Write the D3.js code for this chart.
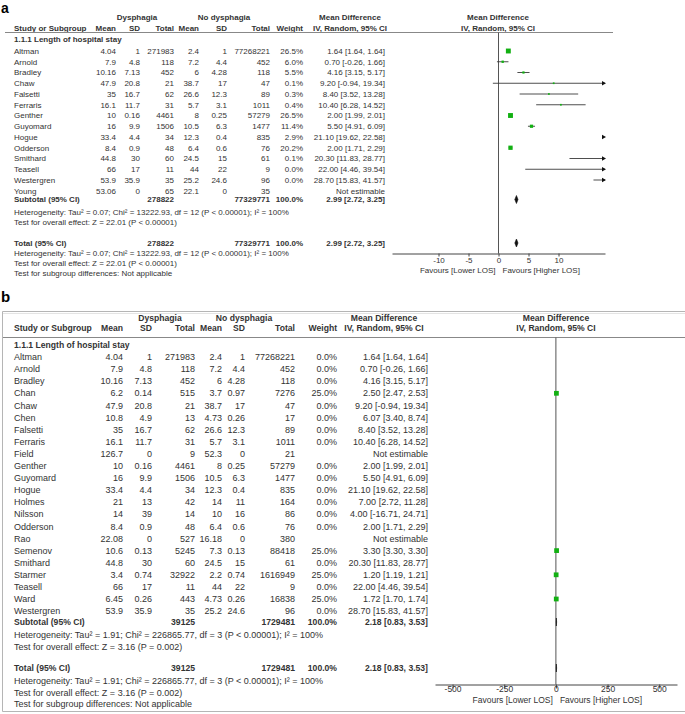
<!DOCTYPE html>
<html><head><meta charset="utf-8">
<script src="https://cdn.jsdelivr.net/npm/d3@7"></script>
<style>
body{margin:0;background:#fff;}
svg{display:block;font-family:"Liberation Sans",Arial,sans-serif;}
</style></head>
<body>
<script>
// ---------- Panel a data ----------
const studiesA = ["Altman","Arnold","Bradley","Chaw","Falsetti","Ferraris","Genther","Guyomard","Hogue","Odderson","Smithard","Teasell","Westergren","Young"];
const dysMeanA = [4.04,7.9,10.16,47.9,35,16.1,10,16,33.4,8.4,44.8,66,53.9,53.06];
const dysSDA   = [1,4.8,7.13,20.8,16.7,11.7,0.16,9.9,4.4,0.9,30,17,35.9,0];
const dysTotA  = [271983,118,452,21,62,31,4461,1506,34,48,60,11,35,65];
const noMeanA  = [2.4,7.2,6,38.7,26.6,5.7,8,10.5,12.3,6.4,24.5,44,25.2,22.1];
const noSDA    = [1,4.4,4.28,17,12.3,3.1,0.25,6.3,0.4,0.6,15,22,24.6,0];
const noTotA   = [77268221,452,118,47,89,1011,57279,1477,835,76,61,9,96,35];
const weightA  = [26.5,6.0,5.5,0.1,0.3,0.4,26.5,11.4,2.9,20.2,0.1,0.0,0.0,null];
const mdA      = [1.64,0.70,4.16,9.20,8.40,10.40,2.00,5.50,21.10,2.00,20.30,22.00,28.70,null];
const loA      = [1.64,-0.26,3.15,-0.94,3.52,6.28,1.99,4.91,19.62,1.71,11.83,4.46,15.83,null];
const hiA      = [1.64,1.66,5.17,19.34,13.28,14.52,2.01,6.09,22.58,2.29,28.77,39.54,41.57,null];
const totalsA  = {dys:278822, no:77329771, md:2.99, lo:2.72, hi:3.25};
const hetA     = "Heterogeneity: Tau\u00b2 = 0.07; Chi\u00b2 = 13222.93, df = 12 (P < 0.00001); I\u00b2 = 100%";
const effA     = "Test for overall effect: Z = 22.01 (P < 0.00001)";
const ticksA   = [-10,-5,0,5,10];

// ---------- Panel b data ----------
const studiesB = ["Altman","Arnold","Bradley","Chan","Chaw","Chen","Falsetti","Ferraris","Field","Genther","Guyomard","Hogue","Holmes","Nilsson","Odderson","Rao","Semenov","Smithard","Starmer","Teasell","Ward","Westergren"];
const dysMeanB = [4.04,7.9,10.16,6.2,47.9,10.8,35,16.1,126.7,10,16,33.4,21,14,8.4,22.08,10.6,44.8,3.4,66,6.45,53.9];
const dysSDB   = [1,4.8,7.13,0.14,20.8,4.9,16.7,11.7,0,0.16,9.9,4.4,13,39,0.9,0,0.13,30,0.74,17,0.26,35.9];
const dysTotB  = [271983,118,452,515,21,13,62,31,9,4461,1506,34,42,14,48,527,5245,60,32922,11,443,35];
const noMeanB  = [2.4,7.2,6,3.7,38.7,4.73,26.6,5.7,52.3,8,10.5,12.3,14,10,6.4,16.18,7.3,24.5,2.2,44,4.73,25.2];
const noSDB    = [1,4.4,4.28,0.97,17,0.26,12.3,3.1,0,0.25,6.3,0.4,11,16,0.6,0,0.13,15,0.74,22,0.26,24.6];
const noTotB   = [77268221,452,118,7276,47,17,89,1011,21,57279,1477,835,164,86,76,380,88418,61,1616949,9,16838,96];
const weightB  = [0.0,0.0,0.0,25.0,0.0,0.0,0.0,0.0,null,0.0,0.0,0.0,0.0,0.0,0.0,null,25.0,0.0,25.0,0.0,25.0,0.0];
const mdB      = [1.64,0.70,4.16,2.50,9.20,6.07,8.40,10.40,null,2.00,5.50,21.10,7.00,4.00,2.00,null,3.30,20.30,1.20,22.00,1.72,28.70];
const loB      = [1.64,-0.26,3.15,2.47,-0.94,3.40,3.52,6.28,null,1.99,4.91,19.62,2.72,-16.71,1.71,null,3.30,11.83,1.19,4.46,1.70,15.83];
const hiB      = [1.64,1.66,5.17,2.53,19.34,8.74,13.28,14.52,null,2.01,6.09,22.58,11.28,24.71,2.29,null,3.30,28.77,1.21,39.54,1.74,41.57];
const totalsB  = {dys:39125, no:1729481, md:2.18, lo:0.83, hi:3.53};
const hetB     = "Heterogeneity: Tau\u00b2 = 1.91; Chi\u00b2 = 226865.77, df = 3 (P < 0.00001); I\u00b2 = 100%";
const effB     = "Test for overall effect: Z = 3.16 (P = 0.002)";
const ticksB   = [-500,-250,0,250,500];

const groupTitle = "1.1.1 Length of hospital stay";
const subgroupText = "Test for subgroup differences: Not applicable";
const favLeft = "Favours [Lower LOS]", favRight = "Favours [Higher LOS]";

// ---------- drawing ----------
const svg = d3.select("body").append("svg").attr("width",685).attr("height",714);
const INK = "#333", GREEN = "#12b012";

function txt(g, x, cy, s, size, anchor, bold){
  return g.append("text").attr("x",x).attr("y",cy + size*0.35)
    .attr("font-size",size).attr("text-anchor",anchor||"start")
    .attr("font-weight",bold?"bold":"normal").attr("fill",INK).text(s);
}
const fmtCI = (m,l,h) => m==null ? "Not estimable" : `${m.toFixed(2)} [${l.toFixed(2)}, ${h.toFixed(2)}]`;

function panel(P, D){
  const g = svg.append("g");
  const fs = P.fs, hs = P.hs, as = P.as;
  // headers
  txt(g, P.cDys, P.h1, "Dysphagia", hs, "middle", true);
  txt(g, P.cNo, P.h1, "No dysphagia", hs, "middle", true);
  txt(g, P.cMD, P.h1, "Mean Difference", hs, "middle", true);
  txt(g, P.cPlot, P.h1, "Mean Difference", hs, "middle", true);
  txt(g, P.xName, P.h2, "Study or Subgroup", hs, "start", true);
  const hdr = ["Mean","SD","Total","Mean","SD","Total","Weight"];
  hdr.forEach((h,i)=>txt(g, P.cols[i], P.h2, h, hs, "end", true));
  txt(g, P.cMD, P.h2, "IV, Random, 95% CI", hs, "middle", true);
  txt(g, P.cPlot, P.h2, "IV, Random, 95% CI", hs, "middle", true);
  g.append("line").attr("x1",P.lineX[0]).attr("x2",P.lineX[1]).attr("y1",P.hLine).attr("y2",P.hLine)
    .attr("stroke","#888").attr("stroke-width",1);

  txt(g, P.xName, P.gTitle, groupTitle, hs, "start", true);

  const n = D.names.length;
  const y = d3.scaleLinear().domain([0,n-1]).range([P.row0, P.row0 + (n-1)*P.dy]);
  const x = d3.scaleLinear().domain(P.domain).range(P.range);

  D.names.forEach((nm,i)=>{
    const cy = y(i);
    txt(g, P.xName, cy, nm, fs, "start", false);
    const vals = [D.dm[i], D.ds[i], D.dt[i], D.nm[i], D.ns[i], D.nt[i], D.w[i]==null?"":D.w[i].toFixed(1)+"%"];
    vals.forEach((v,k)=>txt(g, P.cols[k], cy, String(v), fs, "end", false));
    txt(g, P.colMD, cy, fmtCI(D.md[i], D.lo[i], D.hi[i]), fs, "end", false);
  });

  // subtotal & totals
  const T = D.tot;
  [[P.sub,"Subtotal (95% CI)"],[P.total,"Total (95% CI)"]].forEach(([cy,lab])=>{
    txt(g, P.xName, cy, lab, hs, "start", true);
    txt(g, P.cols[2], cy, String(T.dys), hs, "end", true);
    txt(g, P.cols[5], cy, String(T.no), hs, "end", true);
    txt(g, P.cols[6], cy, "100.0%", hs, "end", true);
    txt(g, P.colMD, cy, fmtCI(T.md,T.lo,T.hi), hs, "end", true);
  });
  txt(g, P.xName, P.het1, D.het, fs, "start", false);
  txt(g, P.xName, P.eff1, D.eff, fs, "start", false);
  txt(g, P.xName, P.het2, D.het, fs, "start", false);
  txt(g, P.xName, P.eff2, D.eff, fs, "start", false);
  txt(g, P.xName, P.subg, subgroupText, fs, "start", false);

  // plot
  const [dmin, dmax] = P.domain;
  g.append("line").attr("x1",x(0)).attr("x2",x(0)).attr("y1",P.hLine).attr("y2",P.axisY)
    .attr("stroke","#555").attr("stroke-width",1);

  D.names.forEach((nm,i)=>{
    if (D.md[i]==null || !P.show(D.w[i])) return;
    const cy = y(i);
    const lo = Math.max(D.lo[i], dmin), hi = Math.min(D.hi[i], dmax);
    if (hi > lo) g.append("line").attr("x1",x(lo)).attr("x2",x(hi)).attr("y1",cy).attr("y2",cy)
        .attr("stroke","#3a3a3a").attr("stroke-width",0.9);
    if (D.hi[i] > dmax) g.append("path")
        .attr("d",`M${x(dmax)+1},${cy} l-4,-2.2 l0,4.4 z`).attr("fill","#111");
    if (D.lo[i] < dmin) g.append("path")
        .attr("d",`M${x(dmin)-1},${cy} l4,-2.2 l0,4.4 z`).attr("fill","#111");
    if (D.md[i] >= dmin && D.md[i] <= dmax){
      const s = Math.max(1.7, 0.95*Math.sqrt(D.w[i]));
      g.append("rect").attr("x",x(D.md[i])-s/2).attr("y",cy-s/2).attr("width",s).attr("height",s)
        .attr("fill",GREEN);
    }
  });
  [P.sub, P.total].forEach(cy=>{
    const h = P.dh;
    g.append("path").attr("d",
      `M${x(T.lo)},${cy} L${x(T.md)},${cy-h} L${x(T.hi)},${cy} L${x(T.md)},${cy+h} Z`)
      .attr("fill","#111").attr("stroke","#111").attr("stroke-width",0.6);
  });

  const axis = d3.axisBottom(x).tickValues(P.ticks).tickSize(P.tickLen).tickSizeOuter(0)
    .tickFormat(d => String(d));
  const ag = g.append("g").attr("transform",`translate(0,${P.axisY})`).call(axis);
  ag.select(".domain").attr("stroke","#444");
  ag.selectAll(".tick line").attr("stroke","#444");
  ag.selectAll(".tick text").attr("font-size",as).attr("fill",INK)
    .attr("font-family",'"Liberation Sans",Arial,sans-serif').attr("dy",null).attr("y",P.tickLabY);
  txt(g, x(0)-3, P.favY, favLeft, as, "end", false);
  txt(g, x(0)+4, P.favY, favRight, as, "start", false);
}

// panel labels
svg.append("text").attr("x",1).attr("y",12.5).attr("font-size",14).attr("font-weight","bold").attr("fill","#000").text("a");
svg.append("text").attr("x",1).attr("y",302).attr("font-size",15).attr("font-weight","bold").attr("fill","#000").text("b");

// panel b frame (top, left, bottom)
svg.append("path").attr("d","M685,311.5 L2.5,311.5 L2.5,711.5 L685,711.5")
  .attr("fill","none").attr("stroke","#b5b5b5").attr("stroke-width",1);
svg.append("line").attr("x1",3).attr("x2",685).attr("y1",313.5).attr("y2",313.5).attr("stroke","#e4e4e4");

panel({
  fs:8, hs:8, as:8, h1:17, h2:28.5, hLine:32.5, lineX:[5,613], gTitle:39.5, row0:51, dy:10.75,
  xName:14, cols:[116,140,174,199,227,270,303], colMD:385, cDys:137, cNo:224, cMD:350, cPlot:498,
  sub:199.5, het1:212.5, eff1:222, total:243, het2:253, eff2:263, subg:273.5,
  domain:[-17.75,17.75], range:[392,605], axisY:253.5, ticks:ticksA, tickLen:3, tickLabY:9.5, favY:270,
  dh:4, show: w => true
},{
  names:studiesA, dm:dysMeanA, ds:dysSDA, dt:dysTotA, nm:noMeanA, ns:noSDA, nt:noTotA,
  w:weightA, md:mdA, lo:loA, hi:hiA, tot:totalsA, het:hetA, eff:effA
});

panel({
  fs:9, hs:8.6, as:8.5, h1:318, h2:328, hLine:337.5, lineX:[3,685], gTitle:345, row0:357, dy:12.1,
  xName:14, cols:[123,152,195,222,245,295,337], colMD:428, cDys:160, cNo:244, cMD:384, cPlot:556,
  sub:622, het1:635, eff1:647, total:668, het2:681, eff2:693, subg:704,
  domain:[-585,586], range:[435,677], axisY:684.5, ticks:ticksB, tickLen:4, tickLabY:7.4, favY:699.8,
  dh:4, show: w => w != null && w > 0
},{
  names:studiesB, dm:dysMeanB, ds:dysSDB, dt:dysTotB, nm:noMeanB, ns:noSDB, nt:noTotB,
  w:weightB, md:mdB, lo:loB, hi:hiB, tot:totalsB, het:hetB, eff:effB
});
</script>
</body></html>
